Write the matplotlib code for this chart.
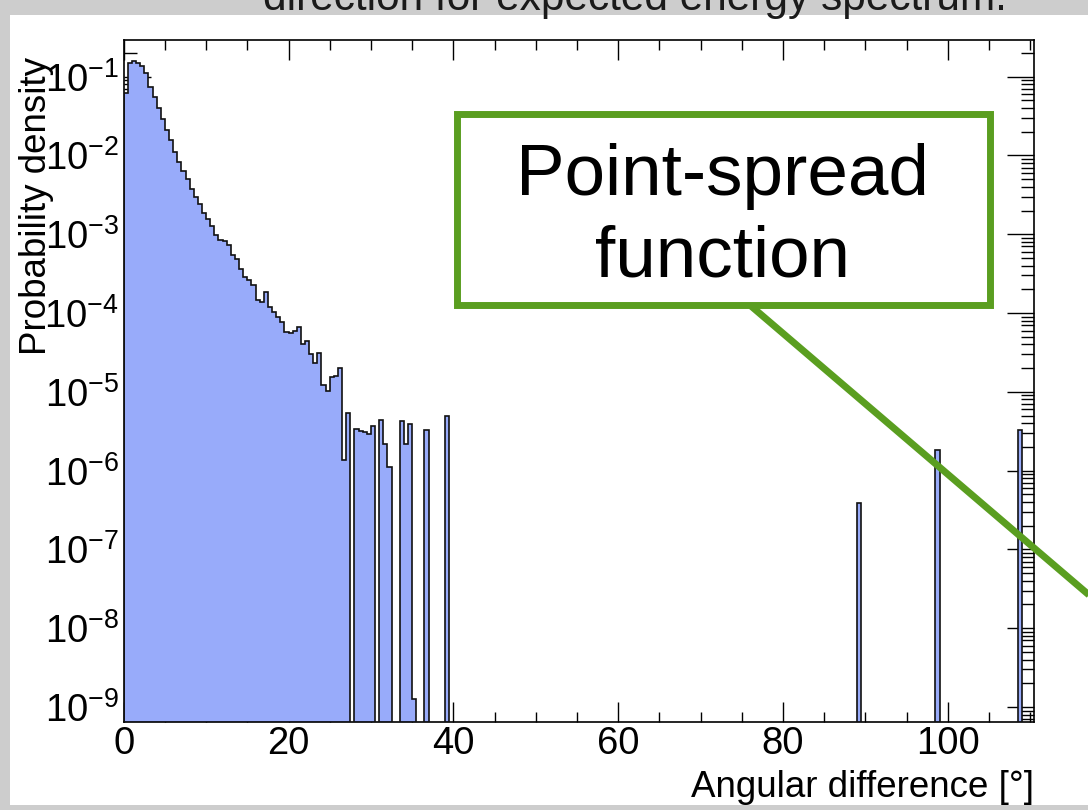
import numpy as np
import matplotlib
matplotlib.use("Agg")
import matplotlib.pyplot as plt
from matplotlib.ticker import FixedLocator, LogLocator, NullFormatter
from matplotlib.patches import Rectangle
from matplotlib.lines import Line2D

plt.rcParams['font.family'] = ['Liberation Sans', 'DejaVu Sans']
plt.rcParams['mathtext.fontset'] = 'custom'
plt.rcParams['mathtext.rm'] = 'Liberation Sans'
plt.rcParams['mathtext.it'] = 'Liberation Sans:italic'
plt.rcParams['mathtext.bf'] = 'Liberation Sans:bold'
plt.rcParams['hatch.color'] = '#8497ee'
plt.rcParams['hatch.linewidth'] = 0.5

# ---------------- data ----------------
bin_width = 0.5
n_bins = 221
# probability density per 0.5 deg bin, starting at 0 deg (bins 0 .. 78)
core_density = [
    6.2e-2, 1.48e-1, 1.58e-1, 1.51e-1, 1.35e-1, 1.10e-1, 7.4e-2, 5.6e-2, 4.0e-2, 2.9e-2,
    2.1e-2, 1.58e-2, 1.12e-2, 8.3e-3, 6.3e-3, 5.0e-3, 3.8e-3, 2.95e-3, 2.4e-3, 1.86e-3,
    1.58e-3, 1.29e-3, 9.8e-4, 8.5e-4, 8.1e-4, 7.2e-4, 5.4e-4, 4.8e-4, 3.6e-4, 2.9e-4,
    2.6e-4, 2.3e-4, 1.45e-4, 1.38e-4, 1.86e-4, 1.20e-4, 1.02e-4, 8.9e-5, 7.6e-5, 5.8e-5,
    5.6e-5, 5.9e-5, 6.6e-5, 4.1e-5, 4.4e-5, 3.0e-5, 2.3e-5, 3.1e-5, 1.23e-5, 1.02e-5,
    1.55e-5, 1.58e-5, 2.0e-5, 1.35e-6, 5.4e-6, 0.0, 3.4e-6, 3.2e-6, 3.1e-6, 2.9e-6,
    3.7e-6, 0.0, 4.4e-6, 2.2e-6, 1.12e-6, 0.0, 0.0, 4.3e-6, 2.2e-6, 3.9e-6,
    1.26e-9, 0.0, 0.0, 3.3e-6, 0.0, 0.0, 0.0, 0.0, 5.0e-6,
]
spike_angles = [89.25, 98.75, 108.75]
spike_density = [3.9e-7, 1.8e-6, 3.3e-6]

x_ticks = [0, 20, 40, 60, 80, 100]
x_ticklabels = ['0', '20', '40', '60', '80', '100']
y_ticks = [1e-9, 1e-8, 1e-7, 1e-6, 1e-5, 1e-4, 1e-3, 1e-2, 1e-1]
y_ticklabels = [r'$10^{-9}$', r'$10^{-8}$', r'$10^{-7}$', r'$10^{-6}$', r'$10^{-5}$',
                r'$10^{-4}$', r'$10^{-3}$', r'$10^{-2}$', r'$10^{-1}$']
x_label = 'Angular difference [°]'
y_label = 'Probability density'
title_text = 'direction for expected energy spectrum.'
box_lines = ['Point-spread', 'function']

# ---------------- build histogram ----------------
edges = np.arange(n_bins + 1) * bin_width
density = np.zeros(n_bins)
density[:len(core_density)] = core_density
for a, d in zip(spike_angles, spike_density):
    density[int(a // bin_width)] = d
plot_vals = np.where(density > 0, density, 1e-15)

W, H = 1088, 810
fig = plt.figure(figsize=(W / 100, H / 100), dpi=100)
fig.patch.set_facecolor('#cdcdcd')

def fx(px):
    return px / W

def fy(py):
    return 1 - py / H

# white canvas of the slide
fig.add_artist(Rectangle((fx(10), fy(805)), fx(1088) - fx(10), fy(15) - fy(805),
                         transform=fig.transFigure, facecolor='white', edgecolor='none', zorder=0))

ax_l, ax_r, ax_t, ax_b = 123.7, 1033.5, 40.0, 721.7
ax = fig.add_axes([fx(ax_l), fy(ax_b), fx(ax_r) - fx(ax_l), fy(ax_t) - fy(ax_b)])
ax.set_facecolor('white')

ax.stairs(plot_vals, edges, baseline=1e-15, fill=True, facecolor='#98abfa',
          edgecolor='none', hatch='//////', zorder=2)
ax.stairs(plot_vals, edges, baseline=1e-15, fill=False, color='#111111', lw=1.2, zorder=3)

ax.set_yscale('log')
ax.set_xlim(0, 110.4)
ax.set_ylim(6.5e-10, 0.292)

ax.xaxis.set_major_locator(FixedLocator(x_ticks))
ax.set_xticklabels(x_ticklabels)
ax.xaxis.set_minor_locator(FixedLocator(np.arange(0, 111, 5)))
ax.yaxis.set_major_locator(FixedLocator(y_ticks))
ax.set_yticklabels(y_ticklabels)
ax.yaxis.set_minor_locator(LogLocator(base=10, subs=np.arange(2, 10), numticks=50))
ax.yaxis.set_minor_formatter(NullFormatter())

ax.tick_params(axis='both', which='both', direction='in', top=True, right=True,
               width=1.0, color='black')
ax.tick_params(axis='x', which='major', length=14.4, labelsize=27.5, pad=3)
ax.tick_params(axis='x', which='minor', length=7.2)
ax.tick_params(axis='y', which='major', length=19.4, labelsize=27.5, pad=3.5)
ax.tick_params(axis='y', which='minor', length=9.4)
for s in ax.spines.values():
    s.set_linewidth(1.2)

# axis titles (ROOT style: aligned to the axis ends)
fig.text(fx(1034), fy(797), x_label, ha='right', va='baseline', fontsize=26.5)
fig.text(fx(46), fy(57), y_label, ha='right', va='baseline', rotation=90,
         rotation_mode='anchor', fontsize=26.5)

# cut-off slide title
fig.text(fx(263), fy(10), title_text, ha='left', va='baseline', fontsize=30.5,
         color='#1a1a1a')

# green annotation box and line
green = '#5a9e20'
fig.add_artist(Rectangle((fx(456.5), fy(304.5)), fx(989.5) - fx(456.5), fy(113.5) - fy(304.5),
                         transform=fig.transFigure, facecolor='white', edgecolor=green,
                         lw=5.0, zorder=10))
fig.text(fx(722), fy(195), box_lines[0], ha='center', va='baseline', fontsize=52.5, zorder=11)
fig.text(fx(722), fy(277), box_lines[1], ha='center', va='baseline', fontsize=52.5, zorder=11)
fig.add_artist(Line2D([fx(751), fx(1100)], [fy(306), fy(306 + 0.855 * 349)],
                      transform=fig.transFigure, color=green, lw=5.0, zorder=9,
                      solid_capstyle='butt'))

fig.savefig('out.png', dpi=100, facecolor=fig.get_facecolor())
